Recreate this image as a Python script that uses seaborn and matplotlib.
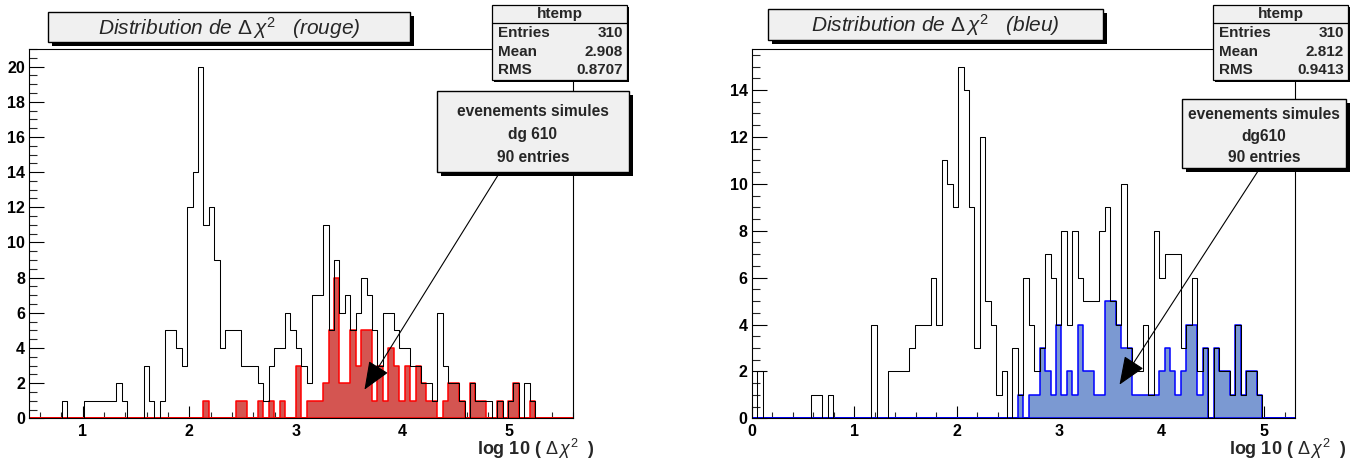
import numpy as np
import pandas as pd
import matplotlib.pyplot as plt
import seaborn as sns
from matplotlib.patches import Rectangle, FancyArrowPatch
from matplotlib.ticker import MultipleLocator

# counts per bin (100 bins each)
left_all = [0, 0, 0, 0, 0, 0, 1, 0, 0, 0, 1, 1, 1, 1, 1, 1, 2, 1, 0, 0,
            0, 3, 1, 0, 1, 5, 5, 4, 3, 12, 14, 20, 11, 12, 9, 4, 5, 5, 5, 3,
            3, 3, 2, 1, 3, 4, 4, 6, 5, 4, 3, 2, 7, 7, 11, 5, 9, 6, 7, 5,
            6, 8, 7, 5, 3, 6, 6, 5, 4, 4, 3, 3, 2, 2, 1, 6, 3, 2, 2, 1,
            0, 2, 1, 1, 1, 0, 1, 0, 1, 2, 0, 2, 1, 0, 0, 0, 0, 0, 0, 0]
left_sim = [0, 0, 0, 0, 0, 0, 0, 0, 0, 0, 0, 0, 0, 0, 0, 0, 0, 0, 0, 0,
            0, 0, 0, 0, 0, 0, 0, 0, 0, 0, 0, 0, 1, 0, 0, 0, 0, 0, 1, 1,
            0, 0, 1, 0, 1, 0, 1, 0, 0, 3, 0, 1, 1, 1, 2, 5, 8, 2, 2, 5,
            3, 5, 5, 1, 3, 1, 4, 3, 1, 3, 1, 3, 2, 1, 1, 0, 1, 2, 2, 1,
            0, 2, 1, 1, 0, 0, 1, 0, 1, 2, 0, 0, 1, 0, 0, 0, 0, 0, 0, 0]
right_all = [0, 2, 0, 0, 0, 0, 0, 0, 0, 0, 0, 1, 1, 0, 1, 0, 0, 0, 0, 0,
             0, 0, 4, 0, 0, 2, 2, 2, 2, 3, 4, 4, 4, 6, 4, 11, 10, 9, 15, 14,
             9, 3, 12, 5, 4, 1, 2, 0, 3, 1, 6, 4, 2, 3, 7, 6, 4, 8, 4, 8,
             6, 5, 5, 5, 8, 9, 5, 4, 10, 3, 2, 2, 4, 1, 8, 6, 7, 7, 7, 3,
             4, 6, 2, 3, 0, 3, 2, 2, 1, 4, 1, 2, 2, 1, 0, 0, 0, 0, 0, 0]
right_sim = [0, 0, 0, 0, 0, 0, 0, 0, 0, 0, 0, 0, 0, 0, 0, 0, 0, 0, 0, 0,
             0, 0, 0, 0, 0, 0, 0, 0, 0, 0, 0, 0, 0, 0, 0, 0, 0, 0, 0, 0,
             0, 0, 0, 0, 0, 0, 0, 0, 0, 1, 0, 1, 1, 3, 2, 1, 4, 1, 2, 1,
             4, 2, 2, 1, 1, 5, 5, 4, 3, 3, 1, 1, 1, 1, 1, 2, 3, 2, 1, 2,
             4, 4, 1, 3, 0, 3, 2, 2, 1, 4, 1, 2, 2, 1, 0, 0, 0, 0, 0, 0]

titles = ["rouge", "bleu"]
stats = [("310", "2.908", "0.8707"), ("310", "2.812", "0.9413")]
legend_names = ["dg 610", "dg610"]

W, H = 1365, 461

sns.set_theme(style="white")
plt.rcParams['font.family'] = ['Liberation Sans', 'DejaVu Sans']
plt.rcParams['mathtext.fontset'] = 'custom'
plt.rcParams['mathtext.rm'] = 'Liberation Sans'
plt.rcParams['mathtext.it'] = 'Liberation Sans:italic'
plt.rcParams['mathtext.bf'] = 'Liberation Sans:bold'

fig = plt.figure(figsize=(W / 100, H / 100), dpi=100)


def fx(px):
    return px / W


def fy(py):
    return 1 - py / H


def box(x0, y0, x1, y1, face, shadow=4, lw=1.0):
    if shadow:
        fig.patches.append(Rectangle((fx(x0 + shadow), fy(y1 + shadow)), (x1 - x0) / W, (y1 - y0) / H,
                                     transform=fig.transFigure, facecolor='black', edgecolor='none', zorder=5))
    fig.patches.append(Rectangle((fx(x0), fy(y1)), (x1 - x0) / W, (y1 - y0) / H,
                                 transform=fig.transFigure, facecolor=face, edgecolor='black', lw=lw, zorder=6))


panels = [
    dict(ax=(29.3, 573.3), lim=(0.5, 5.6), ymax=21.0, all=left_all, sim=left_sim,
         fill='#d45551', edge='#ff0000', title=(48, 12, 410, 42), stat=(492, 5, 627, 80),
         leg=(437, 91, 629, 172), leg_y=(111, 135, 158), arrow=((500, 172), (363, 392)), xlab=595),
    dict(ax=(751.7, 1295), lim=(0.0, 5.3), ymax=15.75, all=right_all, sim=right_sim,
         fill='#7b99d2', edge='#0000ff', title=(768, 9, 1103, 40), stat=(1213, 5, 1348, 80),
         leg=(1182, 99, 1346, 168), leg_y=(114, 136, 157), arrow=((1260, 168), (1118, 387)), xlab=1347),
]

for i, p in enumerate(panels):
    x0, x1 = p['ax']
    ax = fig.add_axes([fx(x0), fy(418.3), (x1 - x0) / W, (418.3 - 49) / H])
    edges = np.linspace(p['lim'][0], p['lim'][1], len(p['all']) + 1)
    df = pd.DataFrame({'x': (edges[:-1] + edges[1:]) / 2,
                       'all': np.array(p['all'], dtype=float),
                       'sim': np.array(p['sim'], dtype=float)})

    sns.histplot(data=df, x='x', weights='all', bins=list(edges), element='step', fill=False,
                 color='black', linewidth=0.75, ax=ax)
    sns.histplot(data=df, x='x', weights='sim', bins=list(edges), element='step', fill=True,
                 color=p['fill'], edgecolor=p['edge'], alpha=1, linewidth=1.1, ax=ax)

    ax.set_xlim(*p['lim'])
    ax.set_ylim(0, p['ymax'])
    ax.set_xlabel('')
    ax.set_ylabel('')
    ax.xaxis.set_major_locator(MultipleLocator(1))
    ax.xaxis.set_minor_locator(MultipleLocator(0.2))
    ax.yaxis.set_major_locator(MultipleLocator(2))
    ax.yaxis.set_minor_locator(MultipleLocator(0.5))
    ax.tick_params(axis='x', which='major', direction='in', length=8.5, width=0.8, pad=4,
                   labelsize=11.5, colors='black', bottom=True, top=False)
    ax.tick_params(axis='x', which='minor', direction='in', length=4.3, width=0.8, bottom=True, top=False)
    ax.tick_params(axis='y', which='major', direction='in', length=11, width=0.8, pad=3,
                   labelsize=11.5, colors='black', left=True, right=False)
    ax.tick_params(axis='y', which='minor', direction='in', length=5.5, width=0.8, left=True, right=False)
    for lab in ax.get_xticklabels() + ax.get_yticklabels():
        lab.set_fontweight('bold')
    for s in ax.spines.values():
        s.set_color('black')
        s.set_linewidth(0.8)
        s.set_visible(True)

    # title box
    tx0, ty0, tx1, ty1 = p['title']
    box(tx0, ty0, tx1, ty1, '#f0f0f0', shadow=4)
    fig.text(fx((tx0 + tx1) / 2), fy((ty0 + ty1) / 2 + 1),
             r'Distribution de $\Delta\,\chi^{2}$   (' + titles[i] + ')',
             ha='center', va='center', fontsize=15, style='italic', zorder=7)

    # stats box
    sx0, sy0, sx1, sy1 = p['stat']
    box(sx0, sy0, sx1, sy1, '#f0f0f0', shadow=2, lw=0.9)
    fig.lines.append(plt.Line2D([fx(sx0), fx(sx1)], [fy(23), fy(23)], transform=fig.transFigure,
                                color='black', lw=0.9, zorder=7))
    fig.text(fx((sx0 + sx1) / 2), fy(14), 'htemp', ha='center', va='center',
             fontsize=11, fontweight='bold', zorder=7)
    for (name, val), yy in zip(zip(['Entries', 'Mean', 'RMS'], stats[i]), (33, 51.5, 70)):
        fig.text(fx(sx0 + 6), fy(yy), name, ha='left', va='center', fontsize=11, fontweight='bold', zorder=7)
        fig.text(fx(sx1 - 4), fy(yy), val, ha='right', va='center', fontsize=11, fontweight='bold', zorder=7)

    # legend box
    lx0, ly0, lx1, ly1 = p['leg']
    box(lx0, ly0, lx1, ly1, '#f0f0f0', shadow=4)
    for txt, yy in zip(['evenements simules', legend_names[i], '90 entries'], p['leg_y']):
        fig.text(fx((lx0 + lx1) / 2), fy(yy), txt, ha='center', va='center',
                 fontsize=11.2, fontweight='bold', zorder=7)

    # arrow
    (ax0, ay0), (ax1, ay1) = p['arrow']
    fig.patches.append(FancyArrowPatch((fx(ax0), fy(ay0)), (fx(ax1), fy(ay1)), transform=fig.transFigure,
                                       arrowstyle='-|>,head_length=1.1,head_width=0.45', mutation_scale=16,
                                       color='black', lw=0.8, zorder=8))

    # x axis title
    fig.text(fx(p['xlab']), fy(449), r'log 10 ( $\Delta\,\chi^{2}$  )', ha='right', va='center',
             fontsize=13, fontweight='bold', zorder=7)

fig.savefig('out.png', dpi=100)
